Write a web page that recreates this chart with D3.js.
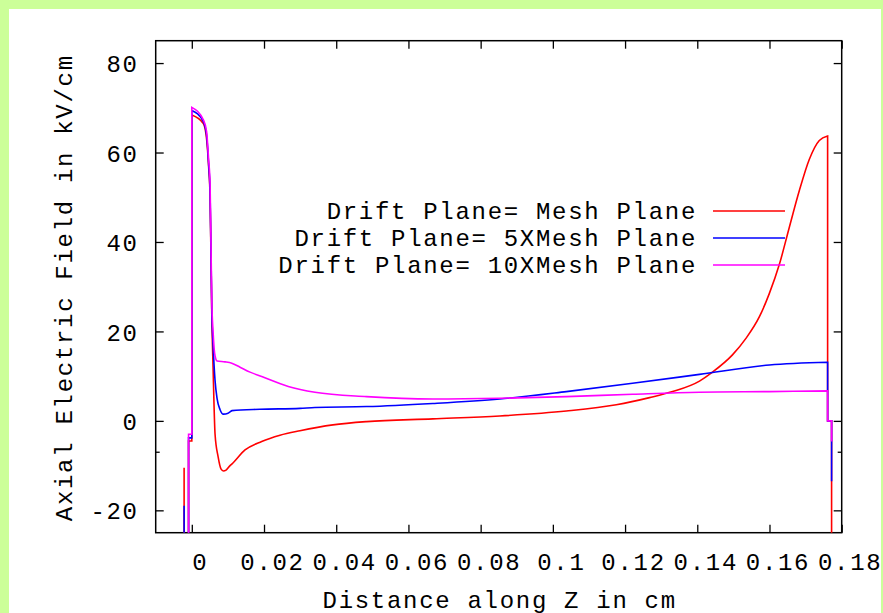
<!DOCTYPE html>
<html>
<head>
<meta charset="utf-8">
<script src="https://cdn.jsdelivr.net/npm/d3@7"></script>
<style>
  html, body { margin: 0; padding: 0; background: #ccff99; }
  svg { display: block; }
  text { font-family: "Liberation Mono", "Courier New", monospace; fill: #000; letter-spacing: 1.7px; }
</style>
</head>
<body>
<svg id="chart" width="883" height="613"></svg>
<script>
// Axial field along z for three drift-plane configurations: [z (cm), E (kV/cm)]
const meshPlane = [
  [-0.00213, -10.5], [-0.00213, -40], [-0.0009, -40], [-0.0009, -4.5], [0, -4.5],
  [0, 68.4], [0.0032, 66.5], [0.0041, 63], [0.00465, 57], [0.00506, 50],
  [0.00534, 35], [0.00553, 24], [0.00589, 12], [0.00644, -3], [0.00728, -8],
  [0.00811, -10.8], [0.00874, -11.2], [0.00949, -11], [0.01059, -10], [0.01115, -9.6],
  [0.01474, -6.5], [0.01936, -4.6], [0.02443, -3.2], [0.02996, -2.2], [0.03909, -0.9],
  [0.04841, -0.16], [0.06675, 0.45], [0.08529, 1.1], [0.10373, 2.2], [0.11757, 3.6],
  [0.12678, 5.2], [0.13314, 6.55], [0.14061, 8.9], [0.14421, 10.9], [0.14974, 14.75],
  [0.15353, 18.5], [0.15721, 23.3], [0.15997, 28.5], [0.16274, 35], [0.1655, 43.3],
  [0.16827, 51.5], [0.17104, 58.5], [0.1738, 62.7], [0.1761, 63.7], [0.1761, 0],
  [0.1772, 0], [0.1772, -40]
];
const fiveXMesh = [
  [-0.00213, -19], [-0.00213, -40], [-0.0009, -40], [-0.0009, -3.8], [0, -3.8],
  [0, 69.4], [0.0032, 66.9], [0.0041, 63.8], [0.00465, 57.5], [0.00506, 51],
  [0.00534, 36], [0.00553, 25], [0.00589, 17], [0.00644, 9], [0.007, 5],
  [0.00783, 2.5], [0.00874, 1.5], [0.01004, 1.7], [0.01059, 2.0], [0.01115, 2.3],
  [0.01889, 2.6], [0.02996, 2.8], [0.03411, 3.0], [0.04841, 3.2], [0.06675, 3.9],
  [0.08529, 4.9], [0.10373, 6.55], [0.12207, 8.4], [0.14061, 10.4], [0.15997, 12.5],
  [0.1761, 13.1], [0.1761, 0], [0.1772, 0], [0.1772, -13.5]
];
const tenXMesh = [
  [-0.0009, -40], [-0.0009, -3], [0, -3], [0, 70.1], [0.0032, 67.3],
  [0.0041, 64.7], [0.00465, 58.5], [0.00506, 53], [0.00534, 38], [0.00553, 27],
  [0.00589, 20], [0.00644, 14.5], [0.007, 13.4], [0.00921, 13.2], [0.01107, 12.9],
  [0.01336, 12], [0.01613, 10.9], [0.01936, 9.9], [0.02672, 7.7], [0.03411, 6.4],
  [0.04841, 5.43], [0.06675, 4.9], [0.08529, 5.05], [0.10373, 5.43], [0.12207, 5.95],
  [0.14061, 6.4], [0.15997, 6.55], [0.1761, 6.7], [0.1761, 0], [0.1772, 0], [0.1772, -4.6]
];

const seriesNames = ["Drift Plane= Mesh Plane", "Drift Plane= 5XMesh Plane", "Drift Plane= 10XMesh Plane"];
const seriesColors = ["#ff0000", "#0000ff", "#ff00ff"];
const xTicks = [0, 0.02, 0.04, 0.06, 0.08, 0.1, 0.12, 0.14, 0.16, 0.18];
const yTicks = [-20, 0, 20, 40, 60, 80];
const yExtraTicks = [-6.9];
const xDomain = [-0.01, 0.18];
const yDomain = [-25, 85];
const xTitle = "Distance along Z in cm";
const yTitle = "Axial Electric Field in kV/cm";

const svg = d3.select("#chart");
const FS = 24;
const FONT = '"Liberation Mono", "Courier New", monospace';

// white page area inside the green border
svg.append("rect").attr("x", 9).attr("y", 9).attr("width", 872).attr("height", 620).attr("fill", "#fff");

const L = 155.7, R = 841.7, T = 40.7, B = 532.7;
const x = d3.scaleLinear().domain(xDomain).range([L, R]);
const y = d3.scaleLinear().domain(yDomain).range([B, T]);

svg.append("clipPath").attr("id", "plotclip")
  .append("rect").attr("x", L).attr("y", T).attr("width", R - L).attr("height", B - T);

const fmtX = d => String(+d.toFixed(2));
const fmtY = d => String(d);

// bottom axis with labels
const gB = svg.append("g").attr("transform", `translate(0,${B})`)
  .call(d3.axisBottom(x).tickValues(xTicks).tickSizeInner(-8).tickSizeOuter(0).tickPadding(20).tickFormat(fmtX));
gB.selectAll("text").attr("x", 8);
// top axis, ticks only
svg.append("g").attr("transform", `translate(0,${T})`)
  .call(d3.axisTop(x).tickValues(xTicks).tickSizeInner(-8).tickSizeOuter(0).tickFormat(""));
// left axis with labels
const gL = svg.append("g").attr("transform", `translate(${L},0)`)
  .call(d3.axisLeft(y).tickValues(yTicks).tickSizeInner(-8).tickSizeOuter(0).tickPadding(17).tickFormat(fmtY));
gL.selectAll("text").attr("dy", "0.36em");
// right axis, ticks only
svg.append("g").attr("transform", `translate(${R},0)`)
  .call(d3.axisRight(y).tickValues(yTicks).tickSizeInner(-8).tickSizeOuter(0).tickFormat(""));
// small extra ticks on both sides
svg.append("g").attr("transform", `translate(${L},0)`)
  .call(d3.axisLeft(y).tickValues(yExtraTicks).tickSizeInner(-4).tickSizeOuter(0).tickFormat(""));
svg.append("g").attr("transform", `translate(${R},0)`)
  .call(d3.axisRight(y).tickValues(yExtraTicks).tickSizeInner(-4).tickSizeOuter(0).tickFormat(""));

svg.selectAll(".domain").remove();
svg.selectAll(".tick line").attr("stroke", "#000").attr("stroke-width", 1.3);
svg.selectAll(".tick text").attr("font-size", FS).attr("font-family", FONT).attr("fill", "#000");

// frame
svg.append("rect").attr("x", L).attr("y", T).attr("width", R - L).attr("height", B - T)
  .attr("fill", "none").attr("stroke", "#000").attr("stroke-width", 1.5);

// curves: the step ends are straight segments, the body is a monotone smooth curve
const straight = d3.line().x(d => x(d[0])).y(d => y(d[1]));
const smooth = d3.line().x(d => x(d[0])).y(d => y(d[1])).curve(d3.curveMonotoneX);
function seriesPath(data) {
  const start = data.findIndex(d => d[1] > 50);        // top of the leading step
  const end = data.findIndex(d => d[0] >= 0.1761);     // top of the trailing drop
  const lead = data.slice(0, start + 1);
  const body = data.slice(start, end + 1);
  const tail = data.slice(end);
  return straight(lead) + smooth(body).replace(/^M[^LC]*/, "") + straight(tail).replace(/^M/, "L");
}
const plot = svg.append("g").attr("clip-path", "url(#plotclip)");
[meshPlane, fiveXMesh, tenXMesh].forEach((data, i) => {
  plot.append("path").attr("d", seriesPath(data))
    .attr("fill", "none").attr("stroke", seriesColors[i]).attr("stroke-width", 1.6)
    .attr("stroke-linejoin", "miter");
});

// legend
const legY = [211, 238, 265];
seriesNames.forEach((name, i) => {
  svg.append("text").attr("x", 697).attr("y", legY[i] + 8).attr("text-anchor", "end")
    .attr("font-size", FS).text(name);
  svg.append("line").attr("x1", 713).attr("x2", 785).attr("y1", legY[i]).attr("y2", legY[i])
    .attr("stroke", seriesColors[i]).attr("stroke-width", 1.6);
});

// axis titles
svg.append("text").attr("x", (L + R) / 2 + 1).attr("y", 608).attr("text-anchor", "middle")
  .attr("font-size", FS).text(xTitle);
svg.append("text").attr("transform", `translate(72,${(T + B) / 2 + 1}) rotate(-90)`)
  .attr("text-anchor", "middle").attr("font-size", FS).text(yTitle);
</script>
</body>
</html>
